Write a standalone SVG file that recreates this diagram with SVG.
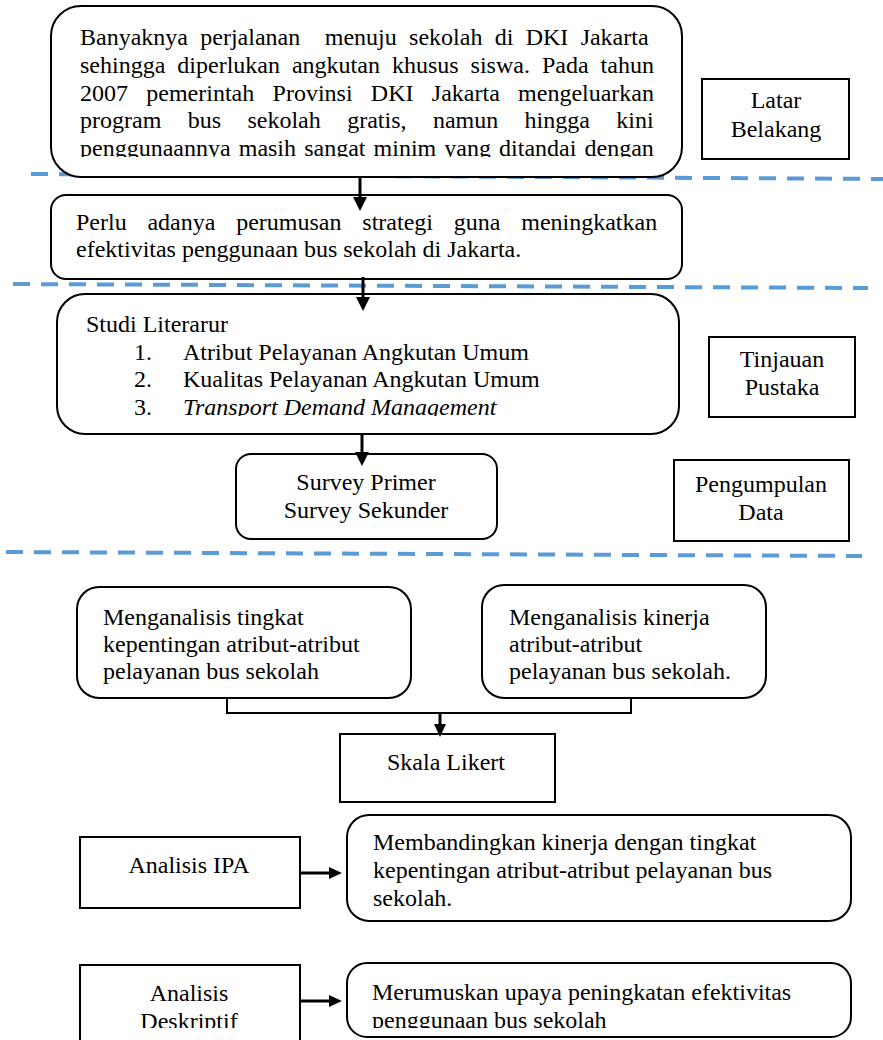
<svg xmlns="http://www.w3.org/2000/svg" width="883" height="1040" viewBox="0 0 883 1040">
<style>
.box{fill:#fff;stroke:#000;stroke-width:2}
.t{font-family:"Liberation Serif","Times New Roman",serif;font-size:24px;fill:#000}
.c{text-anchor:middle}
.dash{stroke:#5B9BD5;stroke-width:4;stroke-dasharray:17 11;fill:none}
.ln{stroke:#000;stroke-width:3;fill:none}
.ln2{stroke:#000;stroke-width:2;fill:none}
.hd{fill:#000}
</style>
<defs>
<clipPath id="c1"><rect x="0" y="0" width="883" height="157"/></clipPath>
<clipPath id="c3"><rect x="0" y="290" width="883" height="126"/></clipPath>
<clipPath id="c6"><rect x="0" y="940" width="883" height="88"/></clipPath>
</defs>
<g id="dashes">
<line class="dash" x1="31" y1="174" x2="883" y2="179"/>
<line class="dash" x1="13" y1="284" x2="868" y2="288"/>
<line class="dash" x1="6" y1="552" x2="862" y2="556"/>
</g>
<g id="n1">
<rect class="box" x="51" y="6" width="631" height="171" rx="30"/>
<g clip-path="url(#c1)" class="t">
<text x="80" y="45" word-spacing="6.3">Banyaknya perjalanan&#160; menuju sekolah di DKI Jakarta</text>
<text x="80" y="73" word-spacing="6">sehingga diperlukan angkutan khusus siswa. Pada tahun</text>
<text x="80" y="101" word-spacing="12.3">2007 pemerintah Provinsi DKI Jakarta mengeluarkan</text>
<text x="80" y="128" word-spacing="20.4">program bus sekolah gratis, namun hingga kini</text>
<text x="80" y="156" word-spacing="2.1">penggunaannya masih sangat minim yang ditandai dengan</text>
</g>
</g>
<g id="n2">
<rect class="box" x="51" y="195" width="631" height="84" rx="15"/>
<text class="t" x="76" y="230" word-spacing="14.8">Perlu adanya perumusan strategi guna meningkatkan</text>
<text class="t" x="76" y="257">efektivitas penggunaan bus sekolah di Jakarta.</text>
</g>
<g id="n3">
<rect class="box" x="57" y="294" width="622" height="140" rx="28"/>
<g clip-path="url(#c3)" class="t">
<text x="86" y="332">Studi Literarur</text>
<text x="134" y="360">1.</text><text x="183" y="360">Atribut Pelayanan Angkutan Umum</text>
<text x="134" y="387">2.</text><text x="183" y="387">Kualitas Pelayanan Angkutan Umum</text>
<text x="134" y="415">3.</text><text x="183" y="415" font-style="italic">Transport Demand Management</text>
</g>
</g>
<g id="n4">
<rect class="box" x="236" y="454" width="261" height="85" rx="15"/>
<text class="t c" x="366" y="490">Survey Primer</text>
<text class="t c" x="366" y="518">Survey Sekunder</text>
</g>
<g id="lb1">
<rect class="box" x="702" y="79" width="147" height="80"/>
<text class="t c" x="776" y="108">Latar</text>
<text class="t c" x="776" y="137">Belakang</text>
</g>
<g id="lb2">
<rect class="box" x="709" y="337" width="146" height="80"/>
<text class="t c" x="782" y="367">Tinjauan</text>
<text class="t c" x="782" y="395">Pustaka</text>
</g>
<g id="lb3">
<rect class="box" x="674" y="460" width="175" height="81"/>
<text class="t c" x="761" y="492">Pengumpulan</text>
<text class="t c" x="761" y="520">Data</text>
</g>
<g id="n5">
<rect class="box" x="77" y="587" width="334" height="111" rx="22"/>
<text class="t" x="103" y="625">Menganalisis tingkat</text>
<text class="t" x="103" y="652">kepentingan atribut-atribut</text>
<text class="t" x="103" y="679">pelayanan bus sekolah</text>
</g>
<g id="n6">
<rect class="box" x="482" y="585" width="284" height="113" rx="22"/>
<text class="t" x="509" y="625">Menganalisis kinerja</text>
<text class="t" x="509" y="652">atribut-atribut</text>
<text class="t" x="509" y="679">pelayanan bus sekolah.</text>
</g>
<g id="n7">
<rect class="box" x="340" y="734" width="215" height="68"/>
<text class="t c" x="446" y="770">Skala Likert</text>
</g>
<g id="n8">
<rect class="box" x="80" y="837" width="220" height="71"/>
<text class="t c" x="189" y="873">Analisis IPA</text>
</g>
<g id="n9">
<rect class="box" x="347" y="815" width="504" height="106" rx="22"/>
<text class="t" x="373" y="850">Membandingkan kinerja dengan tingkat</text>
<text class="t" x="373" y="878">kepentingan atribut-atribut pelayanan bus</text>
<text class="t" x="373" y="906">sekolah.</text>
</g>
<g id="n10">
<rect class="box" x="80" y="965" width="220" height="90"/>
<g clip-path="url(#c6)" class="t c">
<text x="189" y="1001">Analisis</text>
<text x="189" y="1029">Deskriptif</text>
</g>
</g>
<g id="n11">
<rect class="box" x="347" y="963" width="504" height="74" rx="20"/>
<g clip-path="url(#c6)" class="t">
<text x="372" y="1000">Merumuskan upaya peningkatan efektivitas</text>
<text x="372" y="1028">penggunaan bus sekolah</text>
</g>
</g>
<g id="connectors">
<line class="ln" x1="360" y1="177" x2="360" y2="198"/>
<polygon class="hd" points="353,197 367,197 360,211"/>
<line class="ln" x1="363" y1="277" x2="363" y2="298"/>
<polygon class="hd" points="356,297 370,297 363,311"/>
<line class="ln" x1="362" y1="434" x2="362" y2="453"/>
<polygon class="hd" points="355,452 369,452 362,466"/>
<polyline class="ln2" points="227,698 227,713 631,713 631,698"/>
<line class="ln" x1="440" y1="713" x2="440" y2="725"/>
<polygon class="hd" points="434,724 446,724 440,737"/>
<line class="ln" x1="300" y1="873" x2="330" y2="873"/>
<polygon class="hd" points="329,867 329,879 342,873"/>
<line class="ln" x1="300" y1="1001" x2="330" y2="1001"/>
<polygon class="hd" points="329,995 329,1007 342,1001"/>
</g>
</svg>
